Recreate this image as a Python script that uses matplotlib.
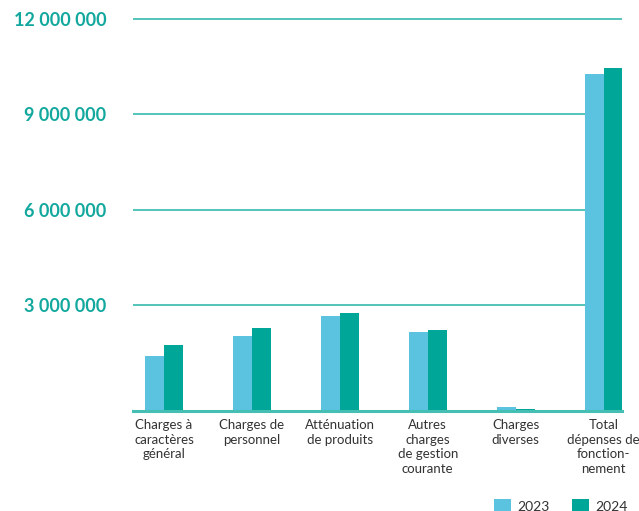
import matplotlib
matplotlib.use("Agg")
import matplotlib.pyplot as plt
import numpy as np

categories = ["Charges à\ncaractères\ngénéral", "Charges de\npersonnel", "Atténuation\nde produits",
              "Autres\ncharges\nde gestion\ncourante", "Charges\ndiverses",
              "Total\ndépenses de\nfonction-\nnement"]
values_2023 = [1730000, 2360000, 2990000, 2490000, 130000, 10600000]
values_2024 = [2080000, 2610000, 3080000, 2550000, 60000, 10790000]
tick_values = [3000000, 6000000, 9000000, 12000000]
tick_labels = ["3 000 000", "6 000 000", "9 000 000", "12 000 000"]
series_labels = ["2023", "2024"]

GRID_OFFSET = 335000  # gridlines sit slightly above baseline scale in the original

c23 = "#5BC3E0"
c24 = "#00A698"
grid_c = "#45BFB3"
tick_c = "#13A89E"

plt.rcParams['font.family'] = ['Lato', 'DejaVu Sans']

fig = plt.figure(figsize=(6.39, 5.11), dpi=100)
ax = fig.add_axes([133/639, 1-411/511, (622-133)/639, (411-15)/511])

x = np.arange(len(categories))
w = 0.216
ax.bar(x - w/2, values_2023, width=w, color=c23, label=series_labels[0], zorder=3)
ax.bar(x + w/2, values_2024, width=w, color=c24, label=series_labels[1], zorder=3)

ax.set_xlim(-0.352, 5.21)
ax.set_ylim(0, 12460000)

yt = [v + GRID_OFFSET for v in tick_values]
ax.set_yticks(yt)
ax.set_yticklabels(tick_labels, color=tick_c, fontsize=13, fontweight='bold')
ax.tick_params(axis='y', length=0, pad=19)
for v in yt:
    ax.axhline(v, color=grid_c, lw=1.3, zorder=1)
ax.axhline(0, color=grid_c, lw=2.2, zorder=4, clip_on=False)

ax.set_xticks(x)
ax.set_xticklabels(categories, fontsize=9.5, color="#333333", linespacing=1.25, va='top')
ax.tick_params(axis='x', length=0, pad=6)

for s in ax.spines.values():
    s.set_visible(False)

fig.legend(loc='upper left', bbox_to_anchor=(494/639, 1-499/511), ncol=2, frameon=False,
           fontsize=10, handlelength=1.2, handleheight=1.2, handletextpad=0.5,
           columnspacing=1.6, borderpad=0, borderaxespad=0, labelcolor="#333333")

fig.savefig("out.png", dpi=100)
